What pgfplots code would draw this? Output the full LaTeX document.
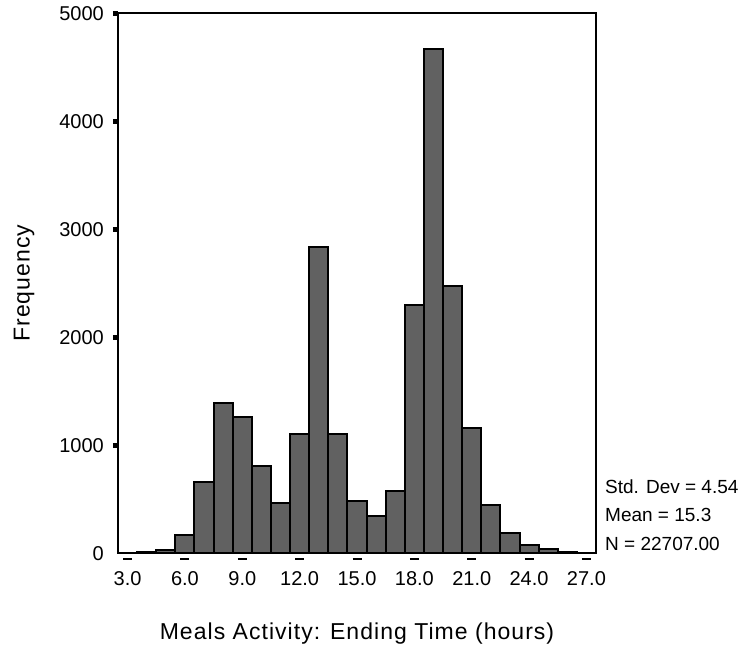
\documentclass[border=0pt]{standalone}
\usepackage{fontspec}
\setmainfont{Liberation Sans}
\newfontfamily\labelfont[LetterSpace=4.5]{Liberation Sans}
\usepackage{pgfplots}
\pgfplotsset{compat=1.18}
\definecolor{BarGray}{gray}{0.38}

\begin{document}
\begin{tikzpicture}[x=1pt,y=1pt]
\begin{axis}[
  at={(118pt,96.7pt)}, anchor=south west,
  scale only axis, width=478pt, height=540pt,
  xmin=2.5, xmax=27.5, ymin=0, ymax=5000,
  clip=false,
  axis line style={line width=1.8pt},
  xtick={3,6,...,27},
  xticklabels={3.0,6.0,9.0,12.0,15.0,18.0,21.0,24.0,27.0},
  xtick style={draw=none},
  ytick={1000,2000,3000,4000,5000},
  extra y ticks={0},
  extra y tick style={tick style={draw=none}},
  ytick pos=left, xtick pos=bottom,
  tick align=outside,
  major tick length=5pt,
  ytick style={line width=4.5pt, black},
  /pgf/number format/assume math mode=true,
  /pgf/number format/set thousands separator={},
  tick label style={font=\fontsize{20}{20}\selectfont, inner sep=0pt},
  yticklabel style={anchor=east, xshift=-9pt},
  xticklabel style={anchor=north, yshift=-13pt},
  xlabel={Meals Activity: Ending Time (hours)},
  ylabel={Frequency},
  label style={font=\labelfont\fontsize{23}{23}\selectfont, inner sep=0pt},
  xlabel style={at={(axis description cs:0.5,-0.1587)}, anchor=base},
  ylabel style={at={(axis description cs:-0.1851,0.5)}, anchor=base},
]
% histogram, one-hour bins centred on the hour
\addplot[ybar, bar width=1, bar shift=0pt, fill=BarGray, draw=black, line width=2pt]
  coordinates {
  (3,2) (4,8) (5,30) (6,165) (7,663) (8,1395) (9,1265) (10,812) (11,463)
  (12,1105) (13,2839) (14,1105) (15,488) (16,349) (17,580) (18,2299)
  (19,4667) (20,2475) (21,1157) (22,447) (23,190) (24,80) (25,40) (26,15) (27,6)
  };

% SPSS-style tick dashes under the axis
\pgfplotsinvokeforeach{3,6,9,12,15,18,21,24,27}{
  \draw[line width=2pt] ([xshift=-4.5pt,yshift=-5.5pt]axis cs:#1,0) -- ([xshift=4.5pt,yshift=-5.5pt]axis cs:#1,0);
}

\node[anchor=base west, inner sep=0pt, font=\fontsize{19}{19}\selectfont]
  at ([xshift=9pt,yshift=60pt]rel axis cs:1,0) {Std. Dev = 4.54};
\node[anchor=base west, inner sep=0pt, font=\fontsize{19}{19}\selectfont]
  at ([xshift=9pt,yshift=31.6pt]rel axis cs:1,0) {Mean = 15.3};
\node[anchor=base west, inner sep=0pt, font=\fontsize{19}{19}\selectfont]
  at ([xshift=9pt,yshift=3.3pt]rel axis cs:1,0) {N = 22707.00};
\end{axis}
\pgfresetboundingbox
\path (0,0) rectangle (743,650);
\end{tikzpicture}
\end{document}
